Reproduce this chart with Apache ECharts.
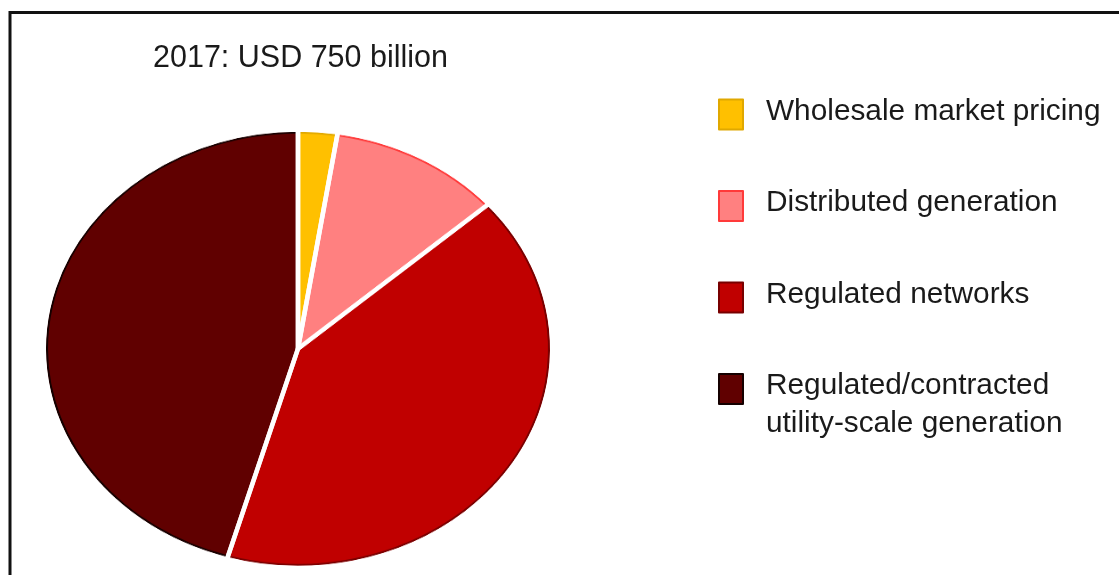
<!DOCTYPE html>
<html>
<head>
<meta charset="utf-8">
<script src="https://cdn.jsdelivr.net/npm/echarts@6/dist/echarts.min.js"></script>
<style>
  html, body { margin: 0; padding: 0; width: 1119px; height: 575px; overflow: hidden; background: #ffffff; }
  /* The pie is drawn as a circle and flattened into an ellipse */
  #pie { position: absolute; left: 0; top: 0; width: 1119px; height: 700px;
         transform: scaleY(0.861); transform-origin: 0 348.7px; }
  #key { position: absolute; left: 0; top: 0; width: 1119px; height: 575px; }
</style>
</head>
<body>
<div id="pie"></div>
<div id="key"></div>
<script>
// Investment by remuneration type, share of total (%)
const categories = [
  'Wholesale market pricing',
  'Distributed generation',
  'Regulated networks',
  'Regulated/contracted\nutility-scale generation'
];
const shares = [2.5, 11, 41, 45.5];
const fillColors = ['#FFC000', '#FF8080', '#C00000', '#600000'];
const edgeColors = ['#E0A800', '#FF3A3A', '#780000', '#150000'];
const titleText = '2017: USD 750 billion';

const FONT = 'Liberation Sans';
const TEXT_COLOR = '#1a1a1a';
const CX = 298, CY = 348.7, R = 252, GAP = 4.5, RIM = 2;

function sliceData(colorFor) {
  return categories.map((name, i) => ({ name, value: shares[i], itemStyle: colorFor(i) }));
}

const pieBase = {
  type: 'pie',
  center: [CX, CY],
  startAngle: 90,
  clockwise: true,
  avoidLabelOverlap: false,
  label: { show: false },
  labelLine: { show: false },
  emphasis: { disabled: true },
  silent: true,
  animation: false
};

const pieChart = echarts.init(document.getElementById('pie'));
pieChart.setOption({
  animation: false,
  series: [
    // slice fills
    Object.assign({}, pieBase, {
      radius: R,
      data: sliceData(i => ({ color: fillColors[i], borderWidth: 0 }))
    }),
    // darker rim along the outer arc of each slice
    Object.assign({}, pieBase, {
      radius: [R - RIM, R],
      data: sliceData(i => ({ color: edgeColors[i], borderWidth: 0 }))
    }),
    // white separators between slices
    Object.assign({}, pieBase, {
      radius: R + GAP / 2,
      data: sliceData(() => ({ color: 'rgba(0,0,0,0)', borderColor: '#ffffff', borderWidth: GAP }))
    })
  ]
});

// Title, frame and legend
const richLabel = {
  t: { fontFamily: FONT, fontSize: 29.8, color: TEXT_COLOR, lineHeight: 38 }
};
function legendTextStyle(padding) {
  return {
    fontFamily: FONT,
    fontSize: 29.8,
    color: TEXT_COLOR,
    lineHeight: 38,
    padding: padding,
    backgroundColor: 'rgba(255,255,255,0)',
    rich: richLabel
  };
}
function legendItems(idx) {
  return idx.map(i => ({
    name: categories[i],
    icon: 'rect',
    itemStyle: { color: fillColors[i], borderColor: edgeColors[i], borderWidth: 2 }
  }));
}
const legendBase = {
  orient: 'vertical',
  left: 718,
  padding: 0,
  itemWidth: 24,
  itemHeight: 30,
  icon: 'rect',
  selectedMode: false,
  formatter: name => name.split('\n').map(line => '{t|' + line + '}').join('\n')
};

const keyChart = echarts.init(document.getElementById('key'));
keyChart.setOption({
  animation: false,
  graphic: [
    {
      type: 'rect',
      silent: true,
      shape: { x: 10, y: 12.5, width: 1400, height: 900 },
      style: { fill: 'none', stroke: '#111111', lineWidth: 3 }
    },
    {
      type: 'text',
      silent: true,
      x: 300.5,
      y: 58.5,
      style: {
        text: titleText,
        fontFamily: FONT,
        fontSize: 30.5,
        fill: TEXT_COLOR,
        align: 'center',
        verticalAlign: 'middle'
      }
    }
  ],
  legend: [
    Object.assign({}, legendBase, {
      top: 92.5,
      itemGap: 47.5,
      data: legendItems([0, 1, 2]),
      textStyle: legendTextStyle([0, 0, 6, 18])
    }),
    Object.assign({}, legendBase, {
      top: 335,
      data: legendItems([3]),
      textStyle: legendTextStyle([32, 0, 0, 18])
    })
  ],
  series: [{
    type: 'pie',
    center: [-600, -600],
    radius: 10,
    silent: true,
    label: { show: false },
    labelLine: { show: false },
    data: sliceData(i => ({ color: fillColors[i], borderColor: edgeColors[i], borderWidth: 2 }))
  }]
});
</script>
</body>
</html>
